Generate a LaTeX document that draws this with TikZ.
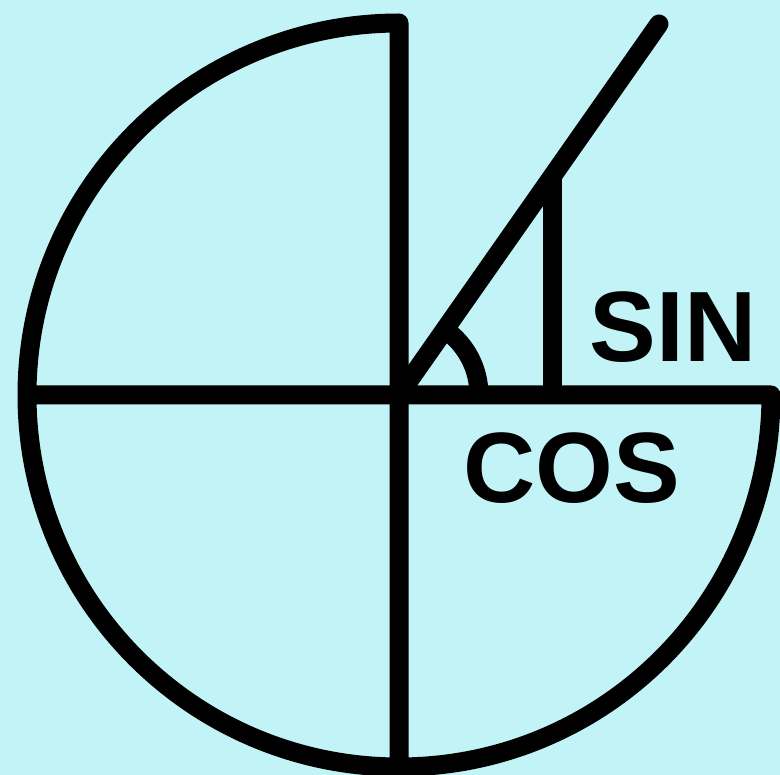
\documentclass[tikz,border=0pt]{standalone}
\usepackage{fontspec}
\setmainfont{Liberation Sans}
\usetikzlibrary{calc}
\definecolor{bgcyan}{RGB}{194,244,247}
\tikzset{
  thick line/.style={line width=19pt, draw=black, line join=round},
  label text/.style={inner sep=0pt, font=\fontsize{100}{100}\selectfont\bfseries}
}
\begin{document}
\begin{tikzpicture}[x=1pt,y=-1pt]
  \fill[bgcyan] (0,0) rectangle (780,775);
  \useasboundingbox (0,0) rectangle (780,775);
  \coordinate (O) at (399,395);
  \coordinate (B) at (399,767);
  \coordinate (T) at (399,23);
  \coordinate (L) at (27,395);
  \coordinate (P) at (659,24);
  \coordinate (F) at (552,395);
  \coordinate (S) at (552,177);
  \coordinate (A) at (479,395);
  % vertical axis, three-quarter circle, horizontal axis
  \draw[thick line] (B) -- (T) arc[start angle=-90, end angle=-360, radius=372] -- (L);
  % radius line
  \draw[thick line, line cap=round] (O) -- (P);
  % sine line
  \draw[thick line] (F) -- (S);
  % angle arc
  \draw[thick line] (A) arc[start angle=0, end angle=-55, radius=80];
  \node[label text] (sin) at (673,327.5) {SIN};
  \node[label text] (cos) at (572,468.5) {COS};
\end{tikzpicture}
\end{document}
